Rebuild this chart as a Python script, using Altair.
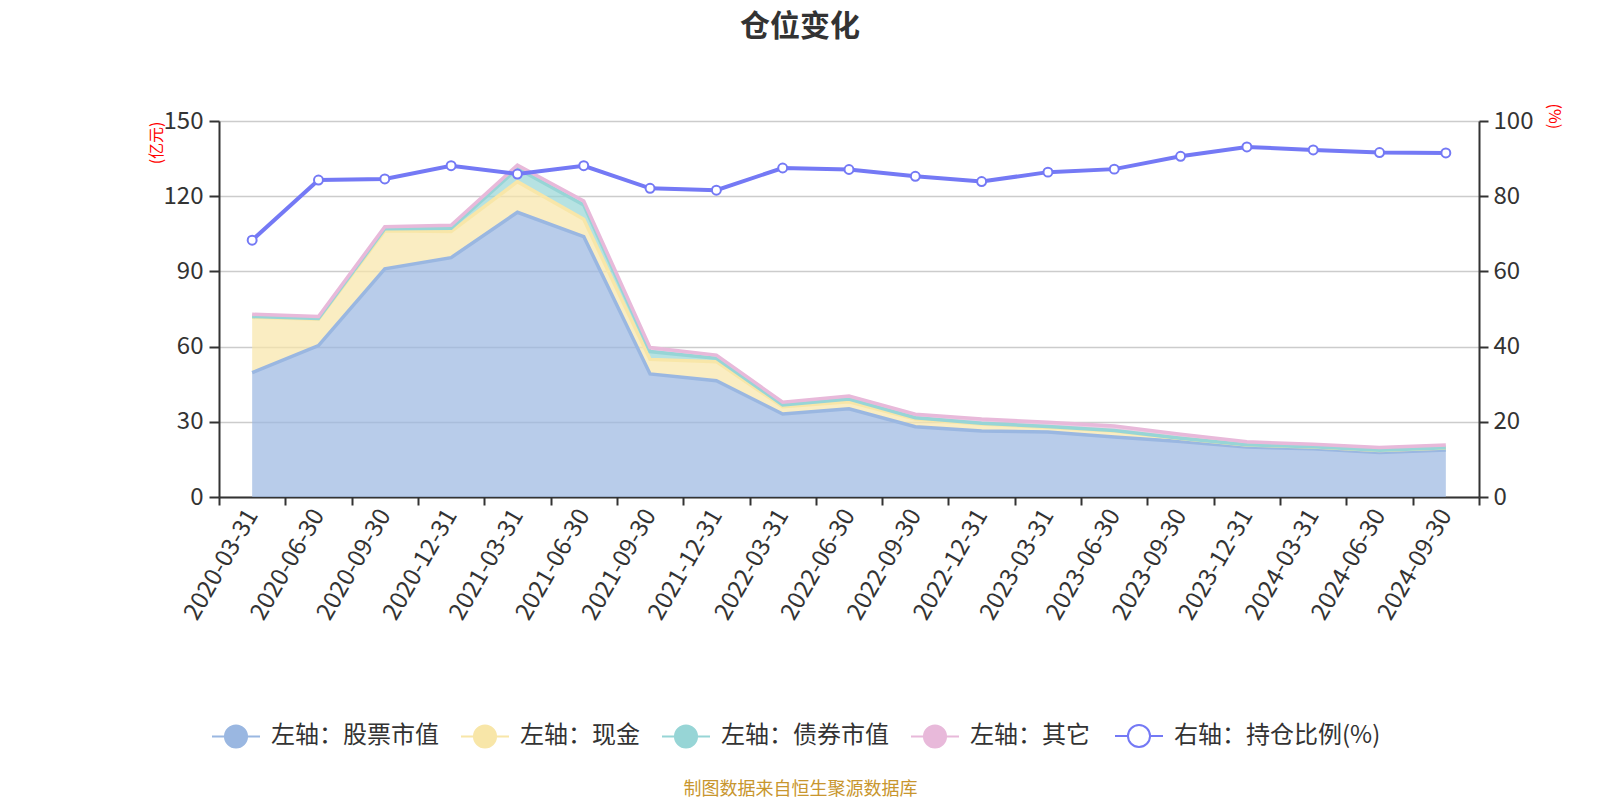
import altair as alt
import pandas as pd

dates = ["2020-03-31", "2020-06-30", "2020-09-30", "2020-12-31", "2021-03-31", "2021-06-30",
         "2021-09-30", "2021-12-31", "2022-03-31", "2022-06-30", "2022-09-30", "2022-12-31",
         "2023-03-31", "2023-06-30", "2023-09-30", "2023-12-31", "2024-03-31", "2024-06-30",
         "2024-09-30"]
stock = [49.6, 60.4, 91.0, 95.5, 113.6, 103.9, 49.1, 46.4, 33.1, 35.2, 28.0, 26.3, 25.9, 23.9,
         22.1, 19.9, 19.2, 17.8, 18.7]
cash = [22.1, 10.5, 15.2, 10.4, 12.2, 6.9, 5.8, 7.6, 2.9, 2.8, 3.1, 2.8, 1.9, 2.4, 1.2, 0.8,
        0.7, 0.8, 0.8]
bond = [0.3, 0.3, 0.8, 1.3, 5.3, 5.7, 3.1, 1.3, 0.7, 1.1, 0.5, 0.3, 0.3, 0.2, 0.1, 0.1, 0.1,
        0.1, 0.1]
other = [0.9, 0.8, 0.8, 1.2, 1.3, 1.6, 1.6, 1.3, 1.1, 1.2, 1.4, 1.7, 1.7, 1.8, 1.6, 1.2, 1.0,
         1.0, 1.1]
ratio = [68.3, 84.3, 84.6, 88.1, 85.9, 88.1, 82.1, 81.6, 87.5, 87.1, 85.3, 83.9, 86.4, 87.2,
         90.6, 93.1, 92.3, 91.6, 91.5]

area_names = ["左轴：股票市值", "左轴：现金", "左轴：债券市值", "左轴：其它"]
area_colors = ["#9ab7e1", "#f8e6a8", "#97d5d6", "#e8b9da"]
line_name = "右轴：持仓比例(%)"
line_color = "#7479f5"

rows = []
for k, series in enumerate([stock, cash, bond, other]):
    for d, v in zip(dates, series):
        rows.append({"date": d, "value": v, "series": area_names[k], "ord": k})
area_df = pd.DataFrame(rows)
line_df = pd.DataFrame({"date": dates, "ratio": ratio, "series": line_name})

FONT = "Noto Sans CJK SC"

legend_path = ("M-1,0L-0.46,0M0.46,0L1,0M-0.46,0A0.46,0.46,0,1,1,0.46,0"
               "A0.46,0.46,0,1,1,-0.46,0Z")
legend_common = dict(
    orient="none", legendY=590, direction="horizontal", title=None,
    symbolType=legend_path, symbolSize=2304, symbolStrokeWidth=2, labelFontSize=24,
    labelFont=FONT, labelColor="#333", labelOffset=10, columnPadding=18, padding=0,
    symbolOpacity=1, labelLimit=500,
)

x_enc = alt.X(
    "date:N", sort=dates, bandPosition=0.5,
    scale=alt.Scale(type="band", paddingInner=0, paddingOuter=0),
    axis=alt.Axis(
        title="制图数据来自恒生聚源数据库", titleX=581, titleY=292, titleColor="#c8962e",
        titleFontSize=18, titleFontWeight="normal", titleFont=FONT, titleAlign="center",
        titleBaseline="middle",
        labelAngle=-60, labelAlign="right", labelBaseline="middle", labelFontSize=24,
        labelColor="#333", labelFont=FONT, labelPadding=6, tickBand="extent",
        tickSize=8, tickColor="#333", tickWidth=2, domainColor="#333", domainWidth=2,
        grid=False, labelOverlap=False),
)

areas = alt.Chart(area_df).mark_area(
    fillOpacity=0.7, line={"strokeWidth": 3.5}, interpolate="linear"
).encode(
    x=x_enc,
    y=alt.Y("value:Q", stack="zero", scale=alt.Scale(domain=[0, 150], nice=False),
            axis=alt.Axis(values=[0, 30, 60, 90, 120, 150], title="(亿元)", titleColor="red",
                          titleFontSize=16, titleFontWeight="normal", titleFont=FONT,
                          titleX=-63, titleY=0, titleAngle=270, titleAlign="right",
                          titleBaseline="middle",
                          labelFontSize=24, labelColor="#333", labelFont=FONT, labelPadding=6,
                          tickSize=10, tickColor="#333", tickWidth=2, domainColor="#333",
                          domainWidth=2, gridColor="#cccccc", gridWidth=1.5)),
    color=alt.Color("series:N", scale=alt.Scale(domain=area_names, range=area_colors),
                    legend=alt.Legend(legendX=-8, **legend_common)),
    order=alt.Order("ord:Q"),
)

line = alt.Chart(line_df).mark_line(
    strokeWidth=4,
    point=alt.OverlayMarkDef(filled=False, fill="white", size=80, strokeWidth=2, opacity=1),
).encode(
    x=x_enc,
    y=alt.Y("ratio:Q", scale=alt.Scale(domain=[0, 100], nice=False),
            axis=alt.Axis(orient="right", values=[0, 20, 40, 60, 80, 100], title="(%)",
                          titleColor="red", titleFontSize=16, titleFontWeight="normal",
                          titleFont=FONT, titleX=74, titleY=-18, titleAngle=90,
                          titleAlign="left", titleBaseline="middle",
                          labelFontSize=24, labelColor="#333", labelFont=FONT, labelPadding=5,
                          tickSize=9, tickColor="#333", tickWidth=2, domainColor="#333",
                          domainWidth=2, grid=False)),
    stroke=alt.Stroke("series:N", scale=alt.Scale(domain=[line_name], range=[line_color]),
                      legend=alt.Legend(legendX=895, symbolFillColor="white",
                                        symbolStrokeColor=line_color, **legend_common)),
)

chart = alt.layer(areas, line).resolve_scale(y="independent").properties(
    width=1260, height=376,
    autosize=alt.AutoSizeParams(type="none"),
    padding={"left": 219, "top": 121, "right": 121, "bottom": 303},
    title=alt.Title("仓位变化", fontSize=30, fontWeight="bold", font=FONT, color="#333",
                    anchor="middle", frame="group", dx=-49, offset=61),
).configure_view(stroke=None)

chart.save("out.html", embed_options={"renderer": "svg", "actions": False})
